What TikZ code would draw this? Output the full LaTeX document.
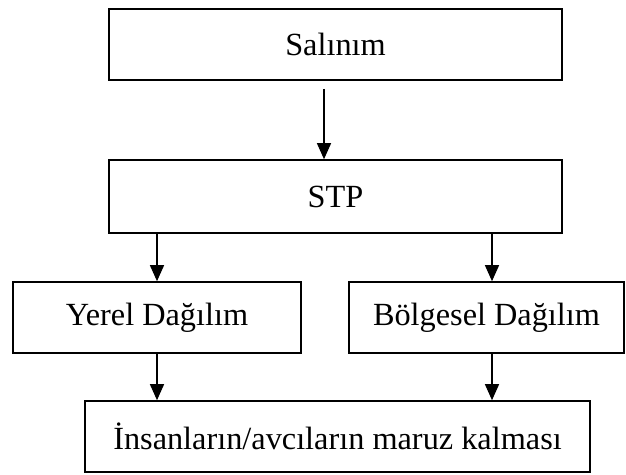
\documentclass[tikz,border=0pt]{standalone}
\usepackage{fontspec}
\setmainfont{Liberation Serif}
\usetikzlibrary{arrows.meta}
\begin{document}
\begin{tikzpicture}[x=1pt,y=-1pt,
  flowbox/.style={draw=black, line width=1.6pt, inner sep=0pt,
    font=\fontsize{32.3}{38}\selectfont},
  arr/.style={line width=1.3pt, -{Triangle[width=14pt,length=16pt]}}]
  \useasboundingbox (0,0) rectangle (626,474);
  \fill[white] (0,0) rectangle (626,474);

  \node[flowbox, minimum width=453pt, minimum height=71pt] (release) at (335.5,44.5) {Salınım};
  \node[flowbox, minimum width=453pt, minimum height=73pt] (stp) at (335.5,196.5) {STP};
  \node[flowbox, minimum width=288pt, minimum height=71pt] (local) at (157,317.5) {Yerel Dağılım};
  \node[flowbox, minimum width=275pt, minimum height=71pt] (regional) at (486.5,317.5) {Bölgesel Dağılım};
  \node[flowbox, minimum width=505pt, minimum height=71pt] (exposure) at (337.5,436.5) {İnsanların/avcıların maruz kalması};

  \draw[arr] ([xshift=-11.5pt,yshift=-8pt]release.south) -- ([xshift=-11.5pt]stp.north);
  \draw[arr] (stp.south -| local.north) -- (local.north);
  \draw[arr] ([xshift=5.5pt]regional.north |- stp.south) -- ([xshift=5.5pt]regional.north);
  \draw[arr] (local.south) -- (local.south |- exposure.north);
  \draw[arr] ([xshift=5.5pt]regional.south) -- ([xshift=5.5pt]regional.south |- exposure.north);
\end{tikzpicture}
\end{document}
